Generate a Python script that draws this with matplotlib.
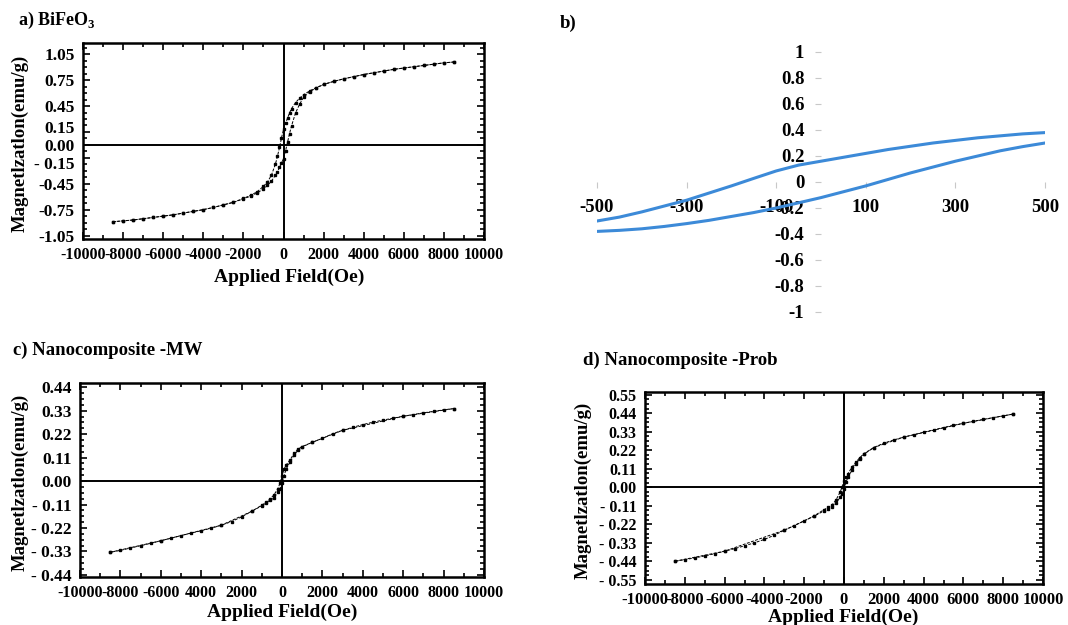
import matplotlib
matplotlib.use('Agg')
import matplotlib.pyplot as plt
from matplotlib.ticker import FixedLocator, MultipleLocator
from matplotlib.transforms import ScaledTranslation

plt.rcParams['font.family'] = 'Liberation Serif'
plt.rcParams['font.weight'] = 'bold'
plt.rcParams['mathtext.fontset'] = 'custom'
plt.rcParams['mathtext.rm'] = 'Liberation Serif:bold'
plt.rcParams['mathtext.bf'] = 'Liberation Serif:bold'

# ---- panel a: BiFeO3 loop ----
a_H_down = [8500, 8000, 7500, 7000, 6500, 6000, 5500, 5000, 4500, 4000, 3500, 3000, 2500, 2000,
            1600, 1300, 1000, 800, 600, 400, 300, 200, 100, 0, -100, -200, -300, -400, -600, -800,
            -1000, -1300, -1600, -2000, -2500, -3000, -3500, -4000, -4500, -5000, -5500, -6000,
            -6500, -7000, -7500, -8000, -8500]
a_M_down = [0.96, 0.95, 0.935, 0.92, 0.905, 0.89, 0.875, 0.855, 0.835, 0.815, 0.79, 0.765, 0.735, 0.70,
            0.66, 0.625, 0.58, 0.54, 0.49, 0.42, 0.37, 0.31, 0.25, 0.18, 0.08, -0.03, -0.13, -0.22, -0.35, -0.43,
            -0.48, -0.54, -0.58, -0.62, -0.665, -0.695, -0.725, -0.75, -0.77, -0.79, -0.81, -0.825,
            -0.84, -0.855, -0.87, -0.88, -0.89]
a_H_up = [-8500, -8000, -7500, -7000, -6500, -6000, -5500, -5000, -4500, -4000, -3500, -3000, -2500, -2000,
          -1600, -1300, -1000, -800, -600, -400, -300, -200, -100, 0, 100, 200, 300, 400, 600, 800,
          1000, 1300, 1600, 2000, 2500, 3000, 3500, 4000, 4500, 5000, 5500, 6000, 6500, 7000, 7500, 8000, 8500]
a_M_up = [-0.89, -0.88, -0.87, -0.855, -0.84, -0.825, -0.81, -0.79, -0.77, -0.75, -0.725, -0.695, -0.665, -0.625,
          -0.59, -0.555, -0.51, -0.47, -0.42, -0.35, -0.31, -0.26, -0.21, -0.16, -0.07, 0.03, 0.13, 0.22, 0.37, 0.47,
          0.55, 0.615, 0.655, 0.70, 0.735, 0.765, 0.79, 0.815, 0.835, 0.855, 0.875, 0.89, 0.905, 0.92, 0.935, 0.95, 0.96]

# ---- panel b: low field loop (zoom) ----
b_H = [-500, -450, -400, -350, -300, -250, -200, -150, -100, -50, 0,
       50, 100, 150, 200, 250, 300, 350, 400, 450, 500]
b_M_upper = [-0.30, -0.27, -0.23, -0.185, -0.14, -0.085, -0.03, 0.028, 0.085, 0.13, 0.16,
             0.19, 0.22, 0.25, 0.275, 0.30, 0.32, 0.34, 0.355, 0.37, 0.38]
b_M_lower = [-0.38, -0.372, -0.36, -0.342, -0.32, -0.295, -0.265, -0.235, -0.20, -0.16, -0.12,
             -0.075, -0.03, 0.02, 0.07, 0.115, 0.16, 0.20, 0.24, 0.272, 0.30]

# ---- panel c: Nanocomposite -MW ----
c_H_down = [8500, 8000, 7500, 7000, 6500, 6000, 5500, 5000, 4500, 4000, 3500, 3000, 2500, 2000, 1500,
            1000, 800, 600, 400, 200, 100, 0, -100, -200, -400, -600, -800, -1000, -1500, -2000, -2500,
            -3000, -3500, -4000, -4500, -5000, -5500, -6000, -6500, -7000, -7500, -8000, -8500]
c_M_down = [0.34, 0.334, 0.327, 0.32, 0.312, 0.304, 0.295, 0.286, 0.276, 0.265, 0.252, 0.238, 0.222, 0.20, 0.182,
            0.162, 0.15, 0.13, 0.10, 0.075, 0.055, 0.025, -0.01, -0.035, -0.065, -0.085, -0.10, -0.113, -0.142, -0.168, -0.19,
            -0.207, -0.221, -0.233, -0.244, -0.256, -0.268, -0.28, -0.292, -0.303, -0.314, -0.325, -0.334]
c_H_up = [-8500, -6000, -3000, -1500, -1000, -800, -600, -400, -200, -100, 0, 100, 200, 400, 600, 800, 1000, 1500, 3000, 6000, 8500]
c_M_up = [-0.334, -0.28, -0.207, -0.142, -0.116, -0.104, -0.09, -0.08, -0.05, -0.035, -0.01, 0.025, 0.055, 0.09, 0.122, 0.146, 0.16, 0.182, 0.238, 0.304, 0.34]

# ---- panel d: Nanocomposite -Prob ----
d_H_down = [8500, 8000, 7500, 7000, 6500, 6000, 5500, 5000, 4500, 4000, 3500, 3000, 2500, 2000, 1500,
            1000, 800, 600, 400, 200, 100, 0, -100, -200, -400, -600, -800, -1000, -1500, -2000, -2500,
            -3000, -3500, -4000, -4500, -5000, -5500, -6000, -6500, -7000, -7500, -8000, -8500]
d_M_down = [0.435, 0.424, 0.414, 0.403, 0.392, 0.38, 0.368, 0.355, 0.341, 0.327, 0.312, 0.298, 0.281, 0.262, 0.236,
            0.20, 0.176, 0.15, 0.12, 0.08, 0.06, 0.035, 0.0, -0.03, -0.075, -0.105, -0.12, -0.133, -0.17, -0.20, -0.228,
            -0.255, -0.285, -0.31, -0.33, -0.348, -0.365, -0.38, -0.395, -0.408, -0.42, -0.43, -0.44]
d_H_up = [-8500, -6000, -3000, -1500, -1000, -800, -600, -400, -200, -100, 0, 100, 200, 400, 600, 800, 1000, 1500, 3000, 6000, 8500]
d_M_up = [-0.44, -0.38, -0.255, -0.172, -0.14, -0.128, -0.115, -0.095, -0.06, -0.04, -0.01, 0.03, 0.06, 0.10, 0.14, 0.17, 0.196, 0.236, 0.298, 0.38, 0.435]

x_ticks = [-10000, -8000, -6000, -4000, -2000, 0, 2000, 4000, 6000, 8000, 10000]
x_labels_ad = ['-10000', '-8000', '-6000', '-4000', '-2000', '0', '2000', '4000', '6000', '8000', '10000']
x_labels_c = ['-10000', '-8000', '-6000', '4000', '2000', '0', '2000', '4000', '6000', '8000', '10000']

a_yticks = [-1.05, -0.75, -0.45, -0.15, 0.0, 0.15, 0.45, 0.75, 1.05]
a_ylabels = ['-1.05', '-0.75', '-0.45', '- 0.15', '0.00', '0.15', '0.45', '0.75', '1.05']
c_yticks = [-0.44, -0.33, -0.22, -0.11, 0.0, 0.11, 0.22, 0.33, 0.44]
c_ylabels = ['- 0.44', '- 0.33', '- 0.22', '- 0.11', '0.00', '0.11', '0.22', '0.33', '0.44']
d_yticks = [-0.55, -0.44, -0.33, -0.22, -0.11, 0.0, 0.11, 0.22, 0.33, 0.44, 0.55]
d_ylabels = ['- 0.55', '- 0.44', '- 0.33', '- 0.22', '- 0.11', '0.00', '0.11', '0.22', '0.33', '0.44', '0.55']

b_xticks = [-500, -300, -100, 100, 300, 500]
b_yticks = [-1, -0.8, -0.6, -0.4, -0.2, 0, 0.2, 0.4, 0.6, 0.8, 1]
b_ylabels = ['-1', '-0.8', '-0.6', '-0.4', '-0.2', '0', '0.2', '0.4', '0.6', '0.8', '1']

W, H = 1068, 625
fig = plt.figure(figsize=(W / 100, H / 100), dpi=100)


def px_axes(l, t, r, b):
    return fig.add_axes([l / W, 1 - b / H, (r - l) / W, (b - t) / H])


def loop_panel(ax, branches, yticks, ylabels, ylim, yminor, xlabels, xsize, ysize):
    for hx, my in branches:
        ax.plot(hx, my, color='black', marker='s', markersize=2, linestyle=(0, (3, 1.5)), linewidth=0.7)
    ax.axhline(0, color='black', lw=1.4, zorder=0)
    ax.axvline(0, color='black', lw=1.4, zorder=0)
    ax.set_xlim(-10000, 10000)
    ax.set_ylim(*ylim)
    ax.xaxis.set_major_locator(FixedLocator(x_ticks))
    ax.set_xticklabels(xlabels)
    ax.xaxis.set_minor_locator(MultipleLocator(1000))
    ax.yaxis.set_major_locator(FixedLocator(yticks))
    ax.set_yticklabels(ylabels)
    ax.yaxis.set_minor_locator(MultipleLocator(yminor))
    ax.tick_params(which='both', direction='in', top=True, right=True, width=1.2)
    ax.tick_params(which='major', length=5, pad=6)
    ax.tick_params(which='minor', length=3)
    ax.tick_params(axis='x', labelsize=xsize)
    ax.tick_params(axis='y', labelsize=ysize)
    for sp in ax.spines.values():
        sp.set_linewidth(1.8)
    for lab in ax.get_xticklabels() + ax.get_yticklabels():
        lab.set_fontweight('bold')


# panel a
ax_a = px_axes(83, 43, 484, 239)
loop_panel(ax_a, [(a_H_down, a_M_down), (a_H_up, a_M_up)], a_yticks, a_ylabels, (-1.09, 1.18), 0.075,
           x_labels_ad, 11.5, 12.5)
# labels near zero sit a bit apart in the original
for lab in ax_a.get_yticklabels():
    if lab.get_text() == '0.15':
        lab.set_transform(lab.get_transform() + ScaledTranslation(0, 5 / 100, fig.dpi_scale_trans))
    elif lab.get_text() == '- 0.15':
        lab.set_transform(lab.get_transform() + ScaledTranslation(0, -5 / 100, fig.dpi_scale_trans))
fig.text(18 / W, 1 - 20 / H, r'a) BiFeO$_\mathbf{3}$', fontsize=13, fontweight='bold', va='center')
fig.text(289 / W, 1 - 277 / H, 'Applied Field(Oe)', fontsize=14, fontweight='bold', ha='center', va='center')
fig.text(20 / W, 1 - 143 / H, 'Magnetlzatlon(emu/g)', fontsize=13.5, fontweight='bold', ha='center', va='center',
         rotation=90)

# panel c
ax_c = px_axes(80, 383, 484, 577)
loop_panel(ax_c, [(c_H_down, c_M_down), (c_H_up, c_M_up)], c_yticks, c_ylabels, (-0.45, 0.46), 0.0275,
           x_labels_c, 11.5, 12.5)
fig.text(13 / W, 1 - 350 / H, 'c) Nanocomposite -MW', fontsize=13.5, fontweight='bold', va='center')
fig.text(282 / W, 1 - 612 / H, 'Applied Field(Oe)', fontsize=14, fontweight='bold', ha='center', va='center')
fig.text(20 / W, 1 - 482 / H, 'Magnetlzatlon(emu/g)', fontsize=13.5, fontweight='bold', ha='center', va='center',
         rotation=90)

# panel d
ax_d = px_axes(645, 392, 1043, 584)
loop_panel(ax_d, [(d_H_down, d_M_down), (d_H_up, d_M_up)], d_yticks, d_ylabels, (-0.575, 0.566), 0.0275,
           x_labels_ad, 12, 11.5)
fig.text(583 / W, 1 - 360 / H, 'd) Nanocomposite -Prob', fontsize=13.5, fontweight='bold', va='center')
fig.text(843 / W, 1 - 617 / H, 'Applied Field(Oe)', fontsize=14, fontweight='bold', ha='center', va='center')
fig.text(583 / W, 1 - 490 / H, 'Magnetlzatlon(emu/g)', fontsize=13.5, fontweight='bold', ha='center', va='center',
         rotation=90)

# panel b
ax_b = px_axes(597, 52, 1045, 312)
ax_b.plot(b_H, b_M_upper, color='#3c8ad8', lw=2.2)
ax_b.plot(b_H, b_M_lower, color='#3c8ad8', lw=2.2)
ax_b.set_xlim(-500, 500)
ax_b.set_ylim(-1, 1)
ax_b.spines['left'].set_position(('data', 0))
ax_b.spines['bottom'].set_position(('data', 0))
for sp in ax_b.spines.values():
    sp.set_color('none')
ax_b.set_xticks(b_xticks)
ax_b.set_xticklabels([str(v) for v in b_xticks])
ax_b.set_yticks(b_yticks)
ax_b.set_yticklabels(b_ylabels)
ax_b.tick_params(which='both', direction='out', length=4, width=0.8, color='#c8c8c8', labelsize=13.5)
ax_b.tick_params(axis='x', pad=8)
ax_b.tick_params(axis='y', pad=8)
ax_b.patch.set_alpha(0)
for lab in ax_b.get_xticklabels() + ax_b.get_yticklabels():
    lab.set_fontweight('bold')
fig.text(560 / W, 1 - 23 / H, 'b)', fontsize=13.5, fontweight='bold', va='center')

fig.savefig('out.png', dpi=100)
plt.close()
